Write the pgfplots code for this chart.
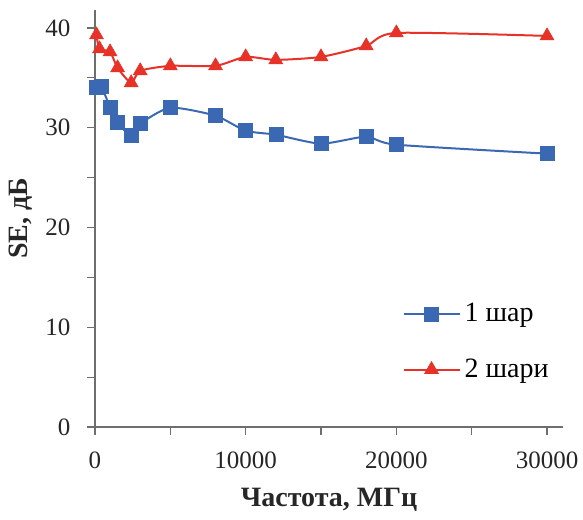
\documentclass[border=0pt]{standalone}
\usepackage{pgfplots}
\pgfplotsset{compat=1.18}
\usepackage{fontspec}
\setmainfont{Liberation Serif}

\definecolor{oneball}{RGB}{58,104,178}
\definecolor{twoball}{RGB}{232,50,40}
\definecolor{axisgray}{RGB}{110,110,110}

\begin{document}
\begin{tikzpicture}
\begin{axis}[
  scale only axis,
  width=234pt, height=208.5pt,
  xmin=0, xmax=31060,
  ymin=0, ymax=41.8,
  axis lines=left,
  axis line style={axisgray, line width=0.6pt, -},
  every tick/.style={axisgray, line width=0.6pt},
  tick align=outside,
  major tick length=3.8pt,
  minor tick length=3.8pt,
  xtick={0,10000,20000,30000},
  minor xtick={5000,15000,25000},
  ytick={0,10,20,30,40},
  minor ytick={5,15,25,35},
  scaled x ticks=false,
  /pgf/number format/set thousands separator={},
  /pgf/number format/assume math mode=true,
  tick label style={font=\fontsize{12.5}{14}\selectfont, text=black!85},
  xticklabel style={yshift=-5pt},
  yticklabel style={xshift=-5pt},
  label style={font=\fontsize{14}{16}\selectfont\bfseries, text=black!85},
  xlabel={Частота, МГц},
  ylabel={SE, дБ},
  xlabel style={at={(rel axis cs:0.5,0)}, anchor=center, yshift=-36.5pt},
  ylabel style={at={(rel axis cs:0,0.5)}, anchor=center, yshift=37pt},
  clip=false,
  legend style={at={(0.652,0.312)}, anchor=north west, draw=none, fill=none,
    font=\fontsize{14}{16}\selectfont, row sep=13pt, inner sep=1pt},
  legend cell align=left,
  legend image code/.code={
    \draw[mark repeat=2,mark phase=2,#1] plot coordinates {(0pt,0pt) (14pt,0pt) (28pt,0pt)};},
]
\addplot[oneball, line width=1pt, smooth, tension=0.4,
  mark=square*, mark size=3.5pt, mark options={fill=oneball, draw=oneball, line width=0.3pt}]
  coordinates {
  (100,34.1) (400,34.2) (1000,32.05) (1500,30.5) (2400,29.2) (3000,30.4)
  (5000,32.0) (8000,31.2) (10000,29.7) (12000,29.3) (15000,28.4)
  (18000,29.1) (20000,28.3) (30000,27.4)};
\addlegendentry{1 шар}
\addplot[twoball, line width=1pt, smooth, tension=0.4,
  mark=triangle*, mark size=4pt, mark options={fill=twoball, draw=twoball, line width=0.3pt}]
  coordinates {
  (100,39.3) (300,37.9) (1000,37.6) (1500,36.0) (2400,34.5) (3000,35.7)
  (5000,36.2) (8000,36.2) (10000,37.1) (12000,36.8) (15000,37.1)
  (18000,38.2) (20000,39.5) (30000,39.2)};
\addlegendentry{2 шари}
\end{axis}
\pgfresetboundingbox
\path[use as bounding box] ([shift={(-47.5pt,-46pt)}]current axis.south west)
  rectangle ([shift={(10pt,5pt)}]current axis.north east);
\end{tikzpicture}
\end{document}
